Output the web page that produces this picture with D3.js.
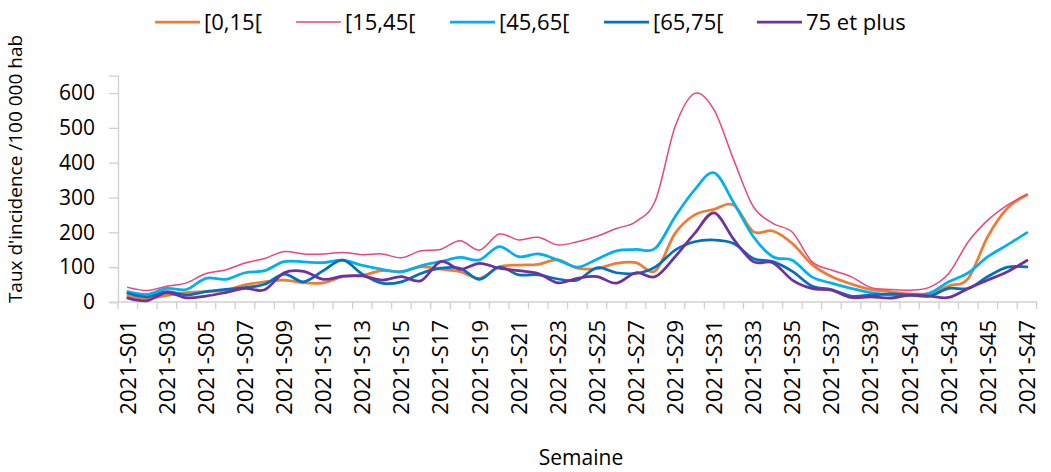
<!DOCTYPE html>
<html>
<head>
<meta charset="utf-8">
<script src="https://cdn.jsdelivr.net/npm/d3@7"></script>
<style>
  html, body { margin: 0; padding: 0; background: #fff; }
  svg { display: block; }
  text { font-family: "Open Sans", "Noto Sans", sans-serif; fill: #000; }
</style>
</head>
<body>
<svg id="chart" width="1051" height="472"></svg>
<script>
const weeks = ["2021-S01","2021-S02","2021-S03","2021-S04","2021-S05","2021-S06","2021-S07","2021-S08","2021-S09","2021-S10",
  "2021-S11","2021-S12","2021-S13","2021-S14","2021-S15","2021-S16","2021-S17","2021-S18","2021-S19","2021-S20",
  "2021-S21","2021-S22","2021-S23","2021-S24","2021-S25","2021-S26","2021-S27","2021-S28","2021-S29","2021-S30",
  "2021-S31","2021-S32","2021-S33","2021-S34","2021-S35","2021-S36","2021-S37","2021-S38","2021-S39","2021-S40",
  "2021-S41","2021-S42","2021-S43","2021-S44","2021-S45","2021-S46","2021-S47"];

const seriesNames = ["[0,15[", "[15,45[", "[45,65[", "[65,75[", "75 et plus"];

const age0_15 = [17,10,19,27,30,34,49,58,63,55,55,73,76,90,87,101,94,87,68,101,106,108,121,97,96,111,113,90,197,250,266,278,202,204,168,108,73,52,36,30,23,25,46,68,188,269,307];
const age15_45 = [42,33,45,55,82,92,112,125,145,138,138,142,136,138,127,147,151,176,149,195,178,186,164,173,189,211,231,293,503,599,551,408,274,226,200,116,92,73,42,36,34,42,82,173,235,278,310];
const age45_65 = [30,22,39,36,68,65,84,90,116,115,113,120,105,94,87,104,116,128,121,159,130,138,121,100,123,147,151,155,245,322,371,285,188,130,120,72,54,39,27,20,20,25,58,84,130,164,199];
const age65_75 = [25,15,30,20,30,36,41,51,80,58,90,120,80,54,58,82,97,97,65,100,78,78,66,63,98,84,82,101,149,173,178,168,125,116,88,46,36,17,20,23,20,17,39,39,73,100,101];
const age75plus = [11,4,27,12,17,27,39,35,84,88,65,74,75,63,73,61,116,94,111,97,90,82,55,68,73,54,84,73,130,197,256,180,116,113,63,39,34,13,15,11,20,17,13,39,63,87,119];

const yTicks = [0,100,200,300,400,500,600];
const xTickLabels = weeks.filter((d, i) => i % 2 === 0);

const seriesValues = [age0_15, age15_45, age45_65, age65_75, age75plus];
const colors = ["#ED7D31", "#E8467C", "#00B0F0", "#0070C0", "#7030A0"];
const widths = [2.75, 1.5, 2.75, 2.75, 2.75];

const svg = d3.select("#chart");
const axisColor = "#D0D0D0";

const x = d3.scaleBand().domain(weeks).range([118, 1036.7]).padding(0);
const y = d3.scaleLinear().domain([0, 650]).range([302, 75.6]);

// Y axis
const yAxis = svg.append("g").attr("transform", "translate(118,0)")
  .call(d3.axisLeft(y).tickValues(yTicks).tickSize(9).tickPadding(14).tickFormat(d3.format("d")));
yAxis.select(".domain").attr("stroke", axisColor).attr("stroke-width", 1.3);
yAxis.selectAll(".tick line").attr("stroke", axisColor).attr("stroke-width", 1.3);
yAxis.selectAll(".tick text").attr("font-size", 21).attr("font-family", "Open Sans").attr("fill", "#000");

// X axis line and boundary ticks
const xg = svg.append("g");
xg.append("line").attr("x1", x.range()[0]).attr("x2", x.range()[1])
  .attr("y1", y(0)).attr("y2", y(0)).attr("stroke", axisColor).attr("stroke-width", 1.3);
const boundaries = weeks.map(w => x(w)).concat([x.range()[1]]);
xg.selectAll("line.tk").data(boundaries).join("line").attr("class", "tk")
  .attr("x1", d => d).attr("x2", d => d).attr("y1", y(0)).attr("y2", y(0) + 7)
  .attr("stroke", axisColor).attr("stroke-width", 1.3);
xg.selectAll("text.xl").data(xTickLabels).join("text").attr("class", "xl")
  .attr("transform", d => `translate(${x(d) + x.bandwidth() / 2},320) rotate(-90)`)
  .attr("text-anchor", "end").attr("dy", "0.36em")
  .attr("font-size", 22).text(d => d);

// Lines
const line = d3.line()
  .x((d, i) => x(weeks[i]) + x.bandwidth() / 2)
  .y(d => y(d))
  .curve(d3.curveCardinal.tension(0));

svg.append("g").selectAll("path").data(seriesValues).join("path")
  .attr("d", d => line(d)).attr("fill", "none")
  .attr("stroke", (d, i) => colors[i]).attr("stroke-width", (d, i) => widths[i])
  .attr("stroke-linejoin", "round").attr("stroke-linecap", "round");

// Legend
const legendX = [155, 296, 450, 604, 757];
const lg = svg.append("g");
seriesNames.forEach((name, i) => {
  lg.append("line").attr("x1", legendX[i]).attr("x2", legendX[i] + 45)
    .attr("y1", 22).attr("y2", 22).attr("stroke", colors[i]).attr("stroke-width", widths[i]);
  lg.append("text").attr("x", legendX[i] + 49).attr("y", 22).attr("dy", "0.35em")
    .attr("font-size", 22).text(name);
});

// Axis titles
svg.append("text").attr("transform", "translate(15,169) rotate(-90)")
  .attr("text-anchor", "middle").attr("dy", "0.35em").attr("font-size", 19)
  .text("Taux d'incidence /100 000 hab");
svg.append("text").attr("x", 581).attr("y", 465).attr("text-anchor", "middle")
  .attr("font-size", 21).text("Semaine");
</script>
</body>
</html>
